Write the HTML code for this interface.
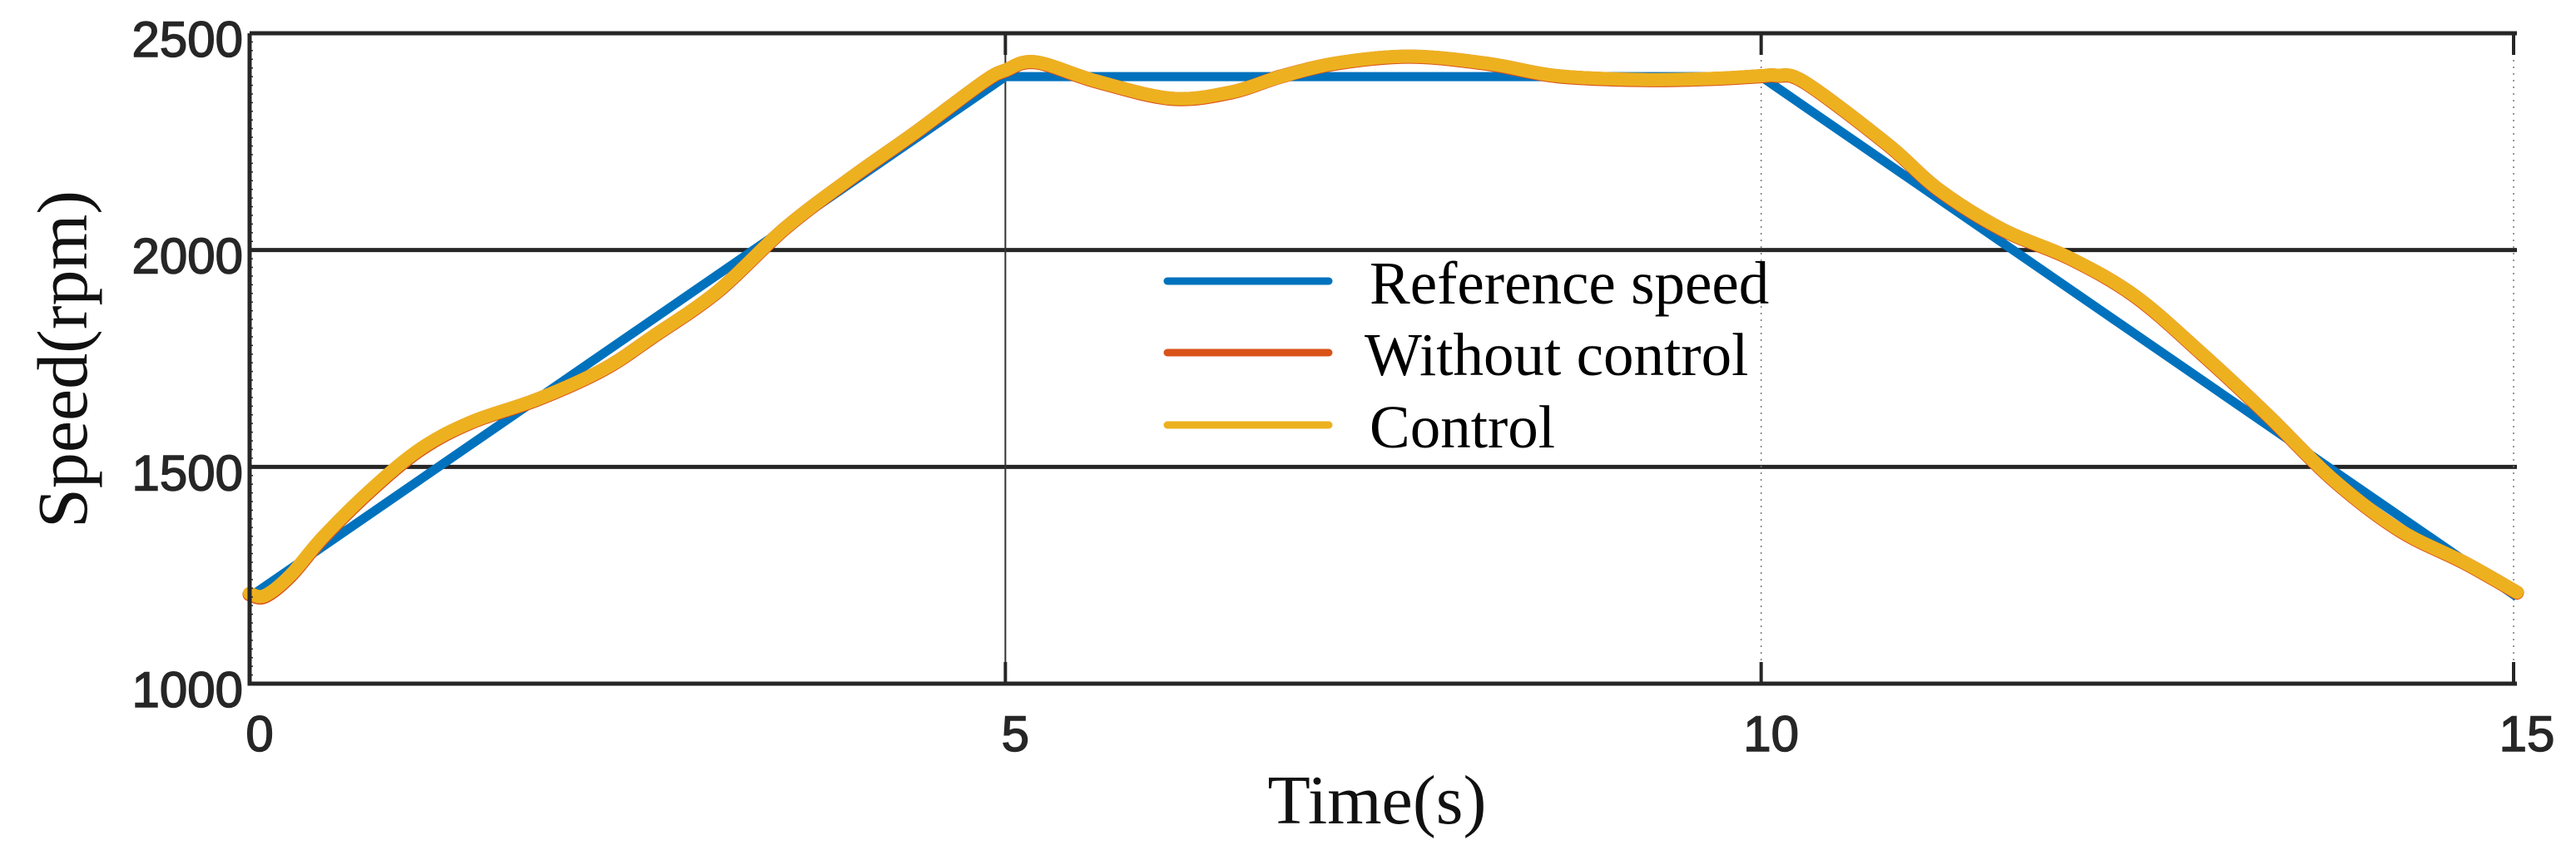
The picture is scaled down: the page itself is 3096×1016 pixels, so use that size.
<!DOCTYPE html>
<html><head><meta charset="utf-8"><style>
html,body{margin:0;padding:0;background:#fff;}
svg{display:block;}
</style></head><body>
<svg id="chart" width="3096" height="1016" viewBox="0 0 3096 1016" xmlns="http://www.w3.org/2000/svg">
<rect x="0" y="0" width="3096" height="1016" fill="#fff"/>
<g id="grid"></g>
<g id="series"></g>
<g id="axes"></g>
<text transform="translate(104,432) rotate(-90)" text-anchor="middle" font-family="Liberation Serif, serif" font-size="86" fill="#111">Speed(rpm)</text>
<text x="1655" y="990" text-anchor="middle" font-family="Liberation Serif, serif" font-size="84" fill="#111">Time(s)</text>
<g id="legend"></g>
</svg>
<script>
const xTicks = [0, 5, 10, 15];
const yTicks = [1000, 1500, 2000, 2500];
const refT = [0, 5, 10, 15];
const refV = [1200, 2400, 2400, 1200];
const ctrlT = [0, 0.1, 0.27, 0.49, 0.82, 1.14, 1.47, 1.91, 2.34, 2.67, 3.1, 3.54, 3.98, 4.41, 4.85, 5.0, 5.2, 5.6, 6.1, 6.5, 6.82, 7.2, 7.68, 8.2, 8.65, 9.23, 9.7, 10.0, 10.1, 10.29, 10.84, 11.17, 11.6, 12.04, 12.47, 12.91, 13.35, 13.78, 14.22, 14.65, 15];
const ctrlV = [1208, 1203, 1250, 1340, 1453, 1544, 1604, 1657, 1725, 1801, 1906, 2050, 2167, 2273, 2387, 2415, 2434, 2390, 2350, 2365, 2400, 2432, 2447, 2430, 2402, 2393, 2396, 2402, 2403, 2387, 2243, 2141, 2047, 1982, 1895, 1763, 1620, 1472, 1355, 1280, 1211];
const noCtrlT = ctrlT;
const noCtrlV = [1206, 1201, 1248, 1338, 1451, 1542, 1603, 1656, 1724, 1800, 1905, 2049, 2166, 2272, 2386, 2414, 2433, 2389, 2349, 2364, 2400, 2431, 2446, 2429, 2401, 2392, 2395, 2401, 2402, 2386, 2242, 2140, 2046, 1981, 1894, 1762, 1619, 1471, 1354, 1279, 1210];
const legendLabels = ["Reference speed", "Without control", "Control"];

const X0=300, X1=3025, Y0=822, Y1=40;
const xs = t => X0 + (t-0)/(15-0)*(X1-X0);
const ys = v => Y0 - (v-1000)/(2500-1000)*(Y0-Y1);
const NS="http://www.w3.org/2000/svg";
function mk(tag, attrs, parent){const e=document.createElementNS(NS,tag);for(const k in attrs)e.setAttribute(k,attrs[k]);parent.appendChild(e);return e;}
const grid=document.getElementById('grid'), axes=document.getElementById('axes'), series=document.getElementById('series'), legend=document.getElementById('legend');

yTicks.forEach(v=>{
  if(v===1000||v===2500) return;
  const l=mk('line',{x1:X0,x2:X1,y1:ys(v),y2:ys(v),stroke:'#262626','stroke-width':5},grid);
  
  
});
xTicks.forEach((t,i)=>{
  if(t===0) return;
  const solid = (t===5);
  const l=mk('line',{x1:xs(t)-(t===15?4:0),x2:xs(t)-(t===15?4:0),y1:Y1,y2:Y0,stroke:solid?'#333':'#777','stroke-width':solid?2:1.5,'stroke-dasharray':solid?'none':'2 6'},grid);
  
  
});

function smoothPath(T,V){
  const p=T.map((t,i)=>[xs(t),ys(V[i])]);
  let d='M'+p[0][0]+','+p[0][1];
  for(let i=0;i<p.length-1;i++){
    const a=p[i-1]||p[i], b=p[i], c=p[i+1], e=p[i+2]||c;
    const c1=[b[0]+(c[0]-a[0])/6, b[1]+(c[1]-a[1])/6];
    const c2=[c[0]-(e[0]-b[0])/6, c[1]-(e[1]-b[1])/6];
    d+=' C'+c1[0]+','+c1[1]+' '+c2[0]+','+c2[1]+' '+c[0]+','+c[1];
  }
  return d;
}
const ref=mk('polyline',{points:refT.map((t,i)=>xs(t)+','+ys(refV[i])).join(' '),fill:'none',stroke:'#0072BD','stroke-width':11,'stroke-linejoin':'round'},series);


const nc=mk('path',{d:smoothPath(noCtrlT,noCtrlV),fill:'none',stroke:'#D95319','stroke-width':17,'stroke-linecap':'round'},series);


const cc=mk('path',{d:smoothPath(ctrlT,ctrlV),fill:'none',stroke:'#EDB120','stroke-width':16,'stroke-linecap':'round'},series);



const box=mk('path',{d:`M${X0},${Y1} H${X1} M${X0},${Y1} V${Y0} H${X1}`,fill:'none',stroke:'#262626','stroke-width':5},axes);


for(let v=1000; v<=2500; v+=20){
  const m=mk('line',{x1:X0,x2:X0+4,y1:ys(v),y2:ys(v),stroke:'#262626','stroke-width':1.5},axes);
  
  
}
xTicks.forEach(t=>{
  if(t===0) return;
  const xx=xs(t)-(t===15?4:0);
  const a=mk('line',{x1:xx,x2:xx,y1:Y1,y2:Y1+26,stroke:'#262626','stroke-width':4},axes);
  
  
  const b=mk('line',{x1:xx,x2:xx,y1:Y0,y2:Y0-26,stroke:'#262626','stroke-width':4},axes);
  
  
});
yTicks.forEach(v=>{
  const tx=mk('text',{x:292,y:ys(v)+28,'text-anchor':'end','font-family':'Liberation Sans, sans-serif','font-size':60,fill:'#262626',stroke:'#262626','stroke-width':1.5},axes);
  tx.textContent=v;
  
  
});
xTicks.forEach(t=>{
  const tx=mk('text',{x:xs(t)+12,y:903,'text-anchor':'middle','font-family':'Liberation Sans, sans-serif','font-size':60,fill:'#262626',stroke:'#262626','stroke-width':1.5},axes);
  tx.textContent=t;
  
  
});
const lc=['#0072BD','#D95319','#EDB120'], ly=[338,424,511], tx0=[1646,1640,1646];
legendLabels.forEach((s,i)=>{
  const l=mk('line',{x1:1403,x2:1597,y1:ly[i],y2:ly[i],stroke:lc[i],'stroke-width':9,'stroke-linecap':'round'},legend);
  
  
  const t=mk('text',{x:tx0[i],y:ly[i]+27,'font-family':'Liberation Serif, serif','font-size':73,fill:'#000'},legend);
  t.textContent=s;
  
  
});
</script>
</body></html>
